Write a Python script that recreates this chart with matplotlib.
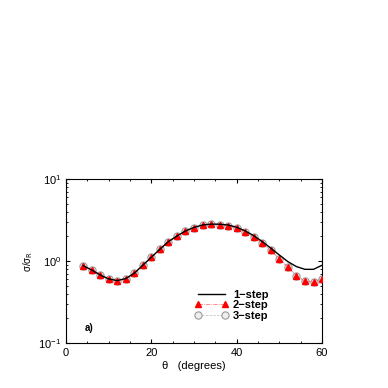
import matplotlib
matplotlib.use("Agg")
import matplotlib.pyplot as plt
from matplotlib.ticker import MultipleLocator, LogLocator, NullFormatter

plt.rcParams['font.family'] = ['Liberation Sans', 'DejaVu Sans']

theta = [4, 6, 8, 10, 12, 14, 16, 18, 20, 22, 24, 26, 28, 30, 32, 34, 36,
         38, 40, 42, 44, 46, 48, 50, 52, 54, 56, 58, 60]
step2 = [0.877, 0.777, 0.676, 0.604, 0.576, 0.609, 0.708, 0.886, 1.108,
         1.387, 1.72, 2.01, 2.32, 2.54, 2.72, 2.79, 2.77, 2.69, 2.50, 2.23,
         1.94, 1.64, 1.34, 1.06, 0.837, 0.663, 0.566, 0.550, 0.609]
step3 = list(step2)
step1 = [0.877, 0.777, 0.676, 0.604, 0.576, 0.609, 0.708, 0.886, 1.108,
         1.387, 1.72, 2.01, 2.32, 2.56, 2.74, 2.81, 2.80, 2.74, 2.57, 2.32,
         2.03, 1.72, 1.43, 1.18, 0.98, 0.853, 0.79, 0.79, 0.886]

fig = plt.figure(figsize=(3.88, 3.88), dpi=100)
ax = fig.add_axes([0.170, 0.116, 0.660, 0.423])

ax.plot(theta, step1, color='black', lw=1.0, label='1\u2212step', zorder=4)
ax.plot(theta, step2, color='#ff6666', lw=0.5, ls='-.', marker='^', ms=4.5,
        mec='red', mfc='red', label='2\u2212step', zorder=3)
ax.plot(theta, step3, color='#bbbbbb', lw=0.5, ls='--', marker='o', ms=5.2,
        mec='#999999', mfc='#eeeeee', mew=0.8, label='3\u2212step', zorder=2)

ax.set_yscale('log')
ax.set_xlim(0, 60)
ax.set_ylim(0.1, 10)
ax.xaxis.set_major_locator(MultipleLocator(20))
ax.xaxis.set_minor_locator(MultipleLocator(5))
ax.yaxis.set_minor_locator(LogLocator(base=10, subs=range(2, 10)))
ax.yaxis.set_minor_formatter(NullFormatter())
ax.tick_params(which='both', direction='in', top=True, right=True, labelsize=8)
ax.tick_params(which='major', length=3)
ax.tick_params(which='minor', length=1.5)
for s in ax.spines.values():
    s.set_linewidth(0.8)

ax.set_xlabel('\u03b8   (degrees)', fontsize=8, labelpad=2)
ax.set_ylabel('\u03c3/\u03c3$_\\mathrm{R}$', fontsize=7, labelpad=2)

ax.legend(loc='lower left', bbox_to_anchor=(0.465, 0.075), frameon=False,
          prop={'weight': 'bold', 'size': 8}, handlelength=3.0,
          handletextpad=0.4, labelspacing=0.05, numpoints=2)
ax.text(0.075, 0.075, 'a)', transform=ax.transAxes, fontsize=7,
        fontweight='bold')

fig.savefig('out.png', dpi=100)
